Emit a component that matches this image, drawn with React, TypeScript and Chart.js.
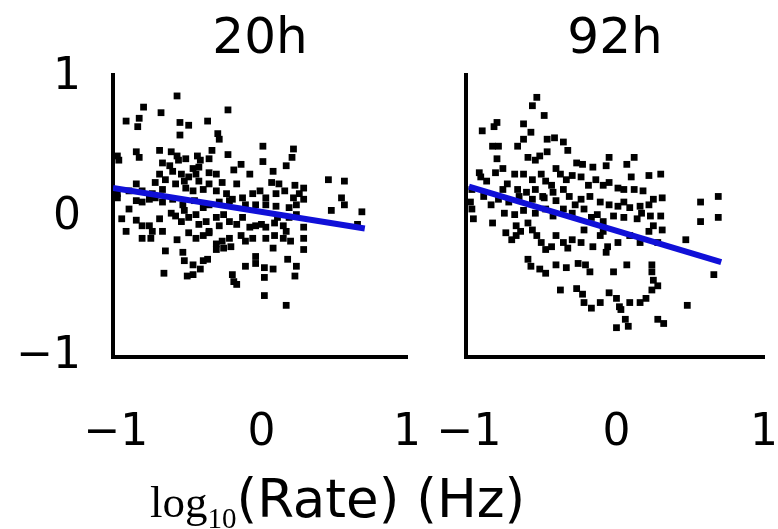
import React, { useEffect, useRef } from "react";
import { Chart, registerables } from "chart.js";
Chart.register(...registerables);

const xTickValues = [-1, 0, 1];
const xTickLabels = ["−1", "0", "1"];
const yTickValues = [-1, 0, 1];
const yTickLabels = ["−1", "0", "1"];
const panelTitles = ["20h", "92h"];
const xAxisLabelMain = "log";
const xAxisLabelSub = "10";
const xAxisLabelRest = "(Rate) (Hz)";

// 20h panel scatter points [log10 rate, value]
const pts20: [number, number][] = [
  [-0.58, 0.87], [-0.81, 0.79], [-0.69, 0.75], [-0.23, 0.77], [-0.93, 0.69], [-0.84, 0.71], [-0.85, 0.65],
  [-0.56, 0.68], [-0.5, 0.66], [-0.37, 0.69], [-0.56, 0.59], [-0.3, 0.6], [-0.29, 0.56],
  [0.01, 0.51], [0.22, 0.49], [0.21, 0.43], [0.01, 0.4], [0.17, 0.37], [-0.99, 0.44], [-0.98, 0.41],
  [-0.86, 0.47], [-0.84, 0.43], [-0.7, 0.48], [-0.62, 0.47], [-0.58, 0.44], [-0.68, 0.39], [-0.57, 0.41],
  [-0.52, 0.42], [-0.44, 0.44], [-0.42, 0.41], [-0.34, 0.48], [-0.36, 0.42], [-0.23, 0.45], [-0.14, 0.38],
  [-0.19, 0.34], [-0.08, 0.31], [0.08, 0.33],
  [-0.63, 0.37], [-0.61, 0.33], [-0.47, 0.35], [-0.43, 0.36], [-0.45, 0.31], [-0.5, 0.29], [-0.36, 0.32],
  [-0.31, 0.31], [-0.7, 0.31], [-0.66, 0.27], [-0.73, 0.25], [-0.55, 0.31], [-0.53, 0.26], [-0.43, 0.26],
  [-0.36, 0.24], [-0.27, 0.25], [-0.17, 0.24], [0.07, 0.25], [0.12, 0.24], [0.23, 0.23], [0.29, 0.21],
  [0.46, 0.27], [0.57, 0.26], [-0.99, 0.17],
  [-0.86, 0.24], [-0.82, 0.19], [-0.75, 0.17], [-0.68, 0.2], [-0.59, 0.24], [-0.52, 0.21], [-0.47, 0.19],
  [-0.4, 0.2], [-0.31, 0.19], [-0.24, 0.17], [-0.2, 0.13], [-0.13, 0.14], [-0.06, 0.17], [-0.01, 0.19],
  [0.03, 0.14], [0.1, 0.17], [0.16, 0.19], [0.22, 0.14], [0.26, 0.17], [0.29, 0.13], [-0.99, 0.14],
  [-0.91, 0.19], [-0.86, 0.12], [-0.82, 0.11], [-0.77, 0.13], [-0.73, 0.14], [-0.68, 0.11], [-0.61, 0.13],
  [-0.54, 0.09], [-0.46, 0.12], [-0.4, 0.07], [-0.36, 0.09], [-0.29, 0.11], [-0.22, 0.12], [-0.11, 0.09],
  [-0.04, 0.09], [0.03, 0.09], [0.1, 0.08], [0.19, 0.07], [0.24, 0.09], [0.55, 0.14], [0.57, 0.09],
  [0.48, 0.05], [0.69, 0.04], [0.66, -0.05],
  [-0.96, -0.01], [-0.91, 0.06], [-0.86, -0.02], [-0.93, -0.1], [-0.82, -0.06], [-0.77, -0.06], [-0.75, -0.1],
  [-0.7, -0.01], [-0.68, -0.1], [-0.62, 0.03], [-0.59, 0.01], [-0.55, -0.03], [-0.53, 0.05], [-0.5, 0.0],
  [-0.45, 0.02], [-0.43, -0.05], [-0.38, -0.03], [-0.36, -0.1], [-0.31, 0.0], [-0.29, -0.06], [-0.26, 0.02],
  [-0.22, -0.03], [-0.17, -0.05], [-0.13, 0.0], [-0.08, -0.07], [-0.04, -0.06], [0.0, -0.05], [0.03, -0.07],
  [0.09, -0.04], [0.11, 0.0], [0.15, -0.06], [0.19, 0.0], [0.24, 0.02], [0.29, -0.07],
  [-0.82, -0.15], [-0.76, -0.15], [-0.58, -0.16], [-0.5, -0.11], [-0.45, -0.15], [-0.4, -0.13], [-0.36, -0.11],
  [-0.31, -0.19], [-0.27, -0.17], [-0.22, -0.15], [-0.21, -0.21], [-0.14, -0.13], [-0.11, -0.17], [-0.06, -0.15],
  [0.03, -0.15], [0.09, -0.13], [0.15, -0.15], [0.2, -0.17], [0.29, -0.15], [0.29, -0.23], [0.08, -0.22],
  [-0.26, -0.22], [-0.31, -0.23], [0.17, -0.1],
  [-0.66, -0.24], [-0.54, -0.25], [-0.53, -0.31], [-0.47, -0.34], [-0.4, -0.31], [-0.37, -0.3], [-0.67, -0.4],
  [-0.51, -0.42], [-0.47, -0.41], [-0.42, -0.37], [-0.11, -0.35], [-0.04, -0.28], [-0.04, -0.33], [0.02, -0.36],
  [0.08, -0.37], [0.18, -0.3], [0.24, -0.35], [0.23, -0.42], [0.02, -0.43], [-0.2, -0.41], [-0.19, -0.46],
  [-0.17, -0.48], [0.02, -0.56], [0.17, -0.63],
];

// 92h panel scatter points [log10 rate, value]
const pts92: [number, number][] = [
  [-0.54, 0.86], [-0.57, 0.8], [-0.49, 0.73], [-0.81, 0.68], [-0.83, 0.65], [-0.91, 0.62], [-0.63, 0.67],
  [-0.58, 0.61], [-0.63, 0.56], [-0.47, 0.56], [-0.42, 0.57], [-0.36, 0.54], [-0.33, 0.48], [-0.84, 0.51],
  [-0.8, 0.51], [-0.67, 0.51], [-0.81, 0.42], [-0.6, 0.43], [-0.55, 0.41], [-0.47, 0.47], [-0.52, 0.44],
  [-0.93, 0.32], [-0.92, 0.29], [-0.82, 0.32], [-0.69, 0.31], [-0.77, 0.35], [-0.88, 0.26], [-0.74, 0.24],
  [-0.63, 0.31], [-0.57, 0.27], [-0.51, 0.31], [-0.48, 0.26], [-0.44, 0.23], [-0.41, 0.35], [-0.38, 0.31],
  [-0.34, 0.27], [-0.27, 0.39], [-0.23, 0.38], [-0.16, 0.36], [-0.07, 0.37], [-0.05, 0.43], [0.07, 0.38],
  [0.12, 0.43], [0.1, 0.29], [0.22, 0.3], [0.3, 0.31], [-0.3, 0.3], [-0.24, 0.29], [-0.19, 0.23],
  [-0.14, 0.27], [-0.09, 0.23], [-0.05, 0.25], [0.01, 0.21], [0.05, 0.2], [0.12, 0.2], [0.18, 0.19],
  [-0.98, 0.2], [-0.99, 0.11], [-0.77, 0.2], [-0.67, 0.2], [-0.61, 0.18], [-0.55, 0.2], [-0.5, 0.15],
  [-0.43, 0.18], [-0.36, 0.2], [0.57, 0.11], [0.69, 0.15], [0.57, -0.03], [0.69, 0.0],
  [-0.98, 0.06], [-0.97, -0.01], [-0.9, 0.15], [-0.85, 0.09], [-0.8, 0.13], [-0.73, 0.11], [-0.66, 0.15],
  [-0.57, 0.13], [-0.49, 0.14], [-0.41, 0.12], [-0.32, 0.15], [-0.28, 0.09], [-0.24, 0.13], [-0.18, 0.15],
  [-0.11, 0.11], [-0.05, 0.09], [0.01, 0.08], [0.05, 0.11], [0.09, 0.07], [0.16, 0.08], [0.22, 0.09],
  [0.25, 0.13], [0.31, 0.14], [-0.84, -0.04], [-0.76, 0.03], [-0.69, 0.02], [-0.63, 0.05], [-0.55, 0.03],
  [-0.48, 0.06], [-0.43, 0.01], [-0.36, 0.06], [-0.3, 0.03], [-0.22, 0.06], [-0.17, 0.0], [-0.13, 0.02],
  [-0.09, -0.03], [-0.02, 0.01], [0.05, 0.0], [0.14, -0.01], [0.17, 0.03], [0.23, 0.01], [0.3, 0.01],
  [0.25, -0.06], [0.31, -0.09], [0.47, -0.16],
  [-0.75, -0.11], [-0.71, -0.16], [-0.68, -0.06], [-0.65, -0.1], [-0.6, -0.04], [-0.57, -0.09], [-0.54, -0.13],
  [-0.51, -0.18], [-0.48, -0.23], [-0.44, -0.21], [-0.41, -0.13], [-0.36, -0.18], [-0.33, -0.22], [-0.3, -0.16],
  [-0.24, -0.18], [-0.22, -0.09], [-0.16, -0.21], [-0.11, -0.13], [-0.09, -0.1], [-0.06, -0.21], [0.01, -0.18],
  [0.09, -0.13], [0.16, -0.18], [0.22, -0.1], [0.28, -0.18], [-0.68, -0.13], [-0.6, -0.3], [-0.58, -0.35],
  [-0.52, -0.37], [-0.48, -0.4], [-0.41, -0.34], [-0.34, -0.36], [-0.26, -0.33], [-0.21, -0.34], [-0.18, -0.39],
  [-0.07, -0.25], [-0.02, -0.39], [0.07, -0.34], [0.24, -0.34], [0.24, -0.39], [0.66, -0.41],
  [-0.38, -0.52], [-0.27, -0.51], [-0.23, -0.55], [-0.22, -0.61], [-0.17, -0.65], [-0.11, -0.61], [-0.05, -0.54],
  [0.0, -0.58], [0.02, -0.64], [0.03, -0.66], [0.09, -0.61], [0.16, -0.61], [0.2, -0.58], [0.24, -0.52],
  [0.28, -0.49], [0.25, -0.45], [0.48, -0.63], [0.06, -0.73], [0.0, -0.79], [0.08, -0.78], [0.28, -0.73],
  [0.32, -0.76],
];

// fitted regression lines (endpoints)
const fit20X = [-1.02, 0.71];
const fit20Y = [0.21, -0.08];
const fit92X = [-1.0, 0.71];
const fit92Y = [0.22, -0.32];

const W = 778;
const H = 529;
const RIGHT_CANVAS_W = 840;

function makeConfig(
  title: string,
  pts: [number, number][],
  fx: number[],
  fy: number[],
  showY: boolean,
  yWidth: number,
  padRight: number
): any {
  return {
    type: "scatter",
    data: {
      datasets: [
        {
          type: "line",
          data: fx.map((x, i) => ({ x, y: fy[i] })),
          borderColor: "#1010d8",
          borderWidth: 6,
          pointRadius: 0,
          fill: false,
          tension: 0,
          order: 0,
        },
        {
          type: "scatter",
          data: pts.map(([x, y]) => ({ x, y })),
          backgroundColor: "#000",
          borderWidth: 0,
          pointStyle: "rect",
          pointRadius: 4.8,
          order: 1,
        },
      ],
    },
    options: {
      responsive: false,
      animation: false,
      devicePixelRatio: 1,
      events: [],
      layout: { padding: { left: 0, right: padRight, top: 0, bottom: 0 } },
      plugins: {
        legend: { display: false },
        tooltip: { enabled: false },
        title: {
          display: true,
          text: title,
          fullSize: false,
          color: "#000",
          font: { family: "DejaVu Sans", size: 50, weight: "normal" },
          padding: { top: 10, bottom: 5 },
        },
      },
      scales: {
        x: {
          type: "linear",
          min: -1.02,
          max: 1,
          grid: { display: false, drawTicks: false },
          border: { display: true, color: "#000", width: 4 },
          afterBuildTicks: (s: any) => {
            s.ticks = xTickValues.map((v) => ({ value: v }));
          },
          afterFit: (s: any) => {
            s.height = H - 357;
          },
          ticks: {
            color: "#000",
            font: { family: "DejaVu Sans", size: 44 },
            padding: 50,
            maxRotation: 0,
            autoSkip: false,
            callback: (v: number) => xTickLabels[xTickValues.indexOf(v)] ?? "",
          },
        },
        y: {
          type: "linear",
          min: -1,
          max: 1.02,
          grid: { display: false, drawTicks: false },
          border: { display: true, color: "#000", width: 4 },
          afterBuildTicks: (s: any) => {
            s.ticks = yTickValues.map((v) => ({ value: v }));
          },
          afterFit: (s: any) => {
            s.width = yWidth;
          },
          ticks: {
            display: showY,
            color: "#000",
            font: { family: "DejaVu Sans", size: 44 },
            padding: 32,
            callback: (v: number) => yTickLabels[yTickValues.indexOf(v)] ?? "",
          },
        },
      },
    },
  };
}

export default function App() {
  const leftRef = useRef<HTMLCanvasElement>(null);
  const rightRef = useRef<HTMLCanvasElement>(null);

  useEffect(() => {
    const c1 = new Chart(
      leftRef.current as HTMLCanvasElement,
      makeConfig(panelTitles[0], pts20, fit20X, fit20Y, true, 113, W - 407)
    );
    const c2 = new Chart(
      rightRef.current as HTMLCanvasElement,
      makeConfig(panelTitles[1], pts92, fit92X, fit92Y, false, 466, RIGHT_CANVAS_W - 764)
    );
    return () => {
      c1.destroy();
      c2.destroy();
    };
  }, []);

  return (
    <div
      style={{
        position: "absolute",
        left: 0,
        top: 0,
        width: W,
        height: H,
        background: "#fff",
        overflow: "hidden",
      }}
    >
      <canvas
        ref={leftRef}
        width={W}
        height={H}
        style={{ position: "absolute", left: 0, top: 0 }}
      />
      <canvas
        ref={rightRef}
        width={RIGHT_CANVAS_W}
        height={H}
        style={{ position: "absolute", left: 0, top: 0 }}
      />
      <div
        style={{
          position: "absolute",
          left: 150,
          top: 474,
          fontFamily: "DejaVu Sans",
          fontSize: 53,
          lineHeight: "50px",
          whiteSpace: "nowrap",
          color: "#000",
        }}
      >
        <span style={{ fontFamily: "Liberation Serif", fontSize: 45 }}>{xAxisLabelMain}</span>
        <span
          style={{
            fontFamily: "Liberation Serif",
            fontSize: 29,
            verticalAlign: -11,
            lineHeight: 0,
          }}
        >
          {xAxisLabelSub}
        </span>
        {xAxisLabelRest}
      </div>
    </div>
  );
}
